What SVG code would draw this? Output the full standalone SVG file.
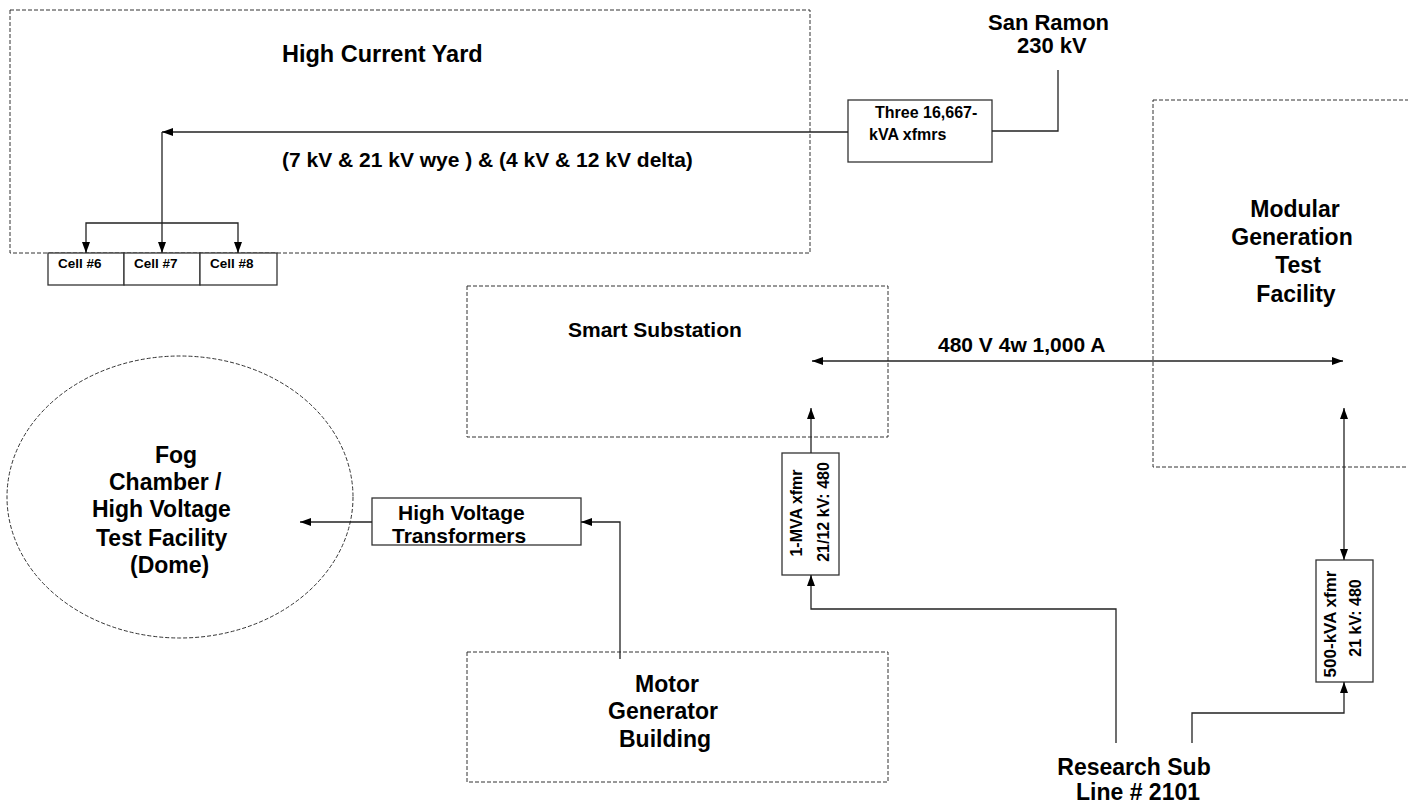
<svg xmlns="http://www.w3.org/2000/svg" width="1408" height="809" viewBox="0 0 1408 809">
<defs>
<style>
.dash{fill:none;stroke:#333;stroke-width:1;stroke-dasharray:4 2}
.box{fill:#fff;stroke:#333;stroke-width:1.3}
.ln{fill:none;stroke:#222;stroke-width:1.3}
.arr{marker-end:url(#ah)}
.arr2{marker-start:url(#ah);marker-end:url(#ah)}
text{font-family:"Liberation Sans",Arial,sans-serif;font-weight:bold;fill:#000}
.big{font-size:23px}
.mid{font-size:21px}
.sm{font-size:16px}
.xs{font-size:13.5px}
</style>
<marker id="ah" markerWidth="11" markerHeight="8" refX="11" refY="4" orient="auto-start-reverse" markerUnits="userSpaceOnUse">
<path d="M0,0 L11,4 L0,8 z" fill="#000"/>
</marker>
</defs>
<rect width="1408" height="809" fill="#fff"/>

<g id="high-current-yard">
<rect class="dash" x="10" y="10" width="800" height="243"/>
<text class="big" x="282" y="62" style="font-size:23.5px">High Current Yard</text>
<text class="mid" x="282" y="167">(7 kV &amp; 21 kV wye ) &amp; (4 kV &amp; 12 kV delta)</text>
</g>

<g id="cells">
<rect class="box" x="48" y="253" width="76" height="32"/>
<rect class="box" x="124" y="253" width="76" height="32"/>
<rect class="box" x="200" y="253" width="77" height="32"/>
<text class="xs" x="58" y="268">Cell #6</text>
<text class="xs" x="134" y="268">Cell #7</text>
<text class="xs" x="210" y="268">Cell #8</text>
</g>

<g id="san-ramon">
<text style="font-size:22px" x="988" y="30">San Ramon</text>
<text style="font-size:22px" x="1017" y="53">230 kV</text>
</g>

<g id="three-xfmrs">
<rect class="box" x="848" y="100" width="144" height="62"/>
<text class="sm" x="875" y="118">Three 16,667-</text>
<text class="sm" x="869" y="140">kVA xfmrs</text>
</g>

<g id="modular-generation">
<rect class="dash" x="1153" y="100" width="270" height="367"/>
<text class="big" x="1295" y="217" text-anchor="middle">Modular</text>
<text class="big" x="1292" y="245" text-anchor="middle">Generation</text>
<text class="big" x="1298" y="273" text-anchor="middle">Test</text>
<text class="big" x="1296" y="302" text-anchor="middle">Facility</text>
</g>

<g id="smart-substation">
<rect class="dash" x="467" y="286" width="421" height="151"/>
<text class="mid" x="568" y="337">Smart Substation</text>
</g>

<g id="fog-chamber">
<ellipse class="dash" cx="180" cy="497" rx="173" ry="141"/>
<text class="big" x="155" y="463">Fog</text>
<text class="big" x="109" y="490">Chamber /</text>
<text class="big" x="92" y="517">High Voltage</text>
<text class="big" x="96" y="546">Test Facility</text>
<text class="big" x="130" y="573">(Dome)</text>
</g>

<g id="hv-transformers">
<rect class="box" x="372" y="498" width="209" height="47"/>
<text class="mid" x="398" y="520">High Voltage</text>
<text class="mid" x="392" y="543">Transformers</text>
</g>

<g id="motor-generator">
<rect class="dash" x="467" y="652" width="421" height="130"/>
<text class="big" x="667" y="692" text-anchor="middle">Motor</text>
<text class="big" x="663" y="719" text-anchor="middle">Generator</text>
<text class="big" x="665" y="747" text-anchor="middle">Building</text>
</g>

<g id="xfmr-1mva">
<rect class="box" x="782" y="453" width="57" height="122"/>
<text class="sm" text-anchor="middle" transform="translate(802,513) rotate(-90)">1-MVA xfmr</text>
<text class="sm" text-anchor="middle" transform="translate(829,512) rotate(-90)">21/12 kV: 480</text>
</g>

<g id="xfmr-500kva">
<rect class="box" x="1316" y="560" width="57" height="122"/>
<text class="sm" text-anchor="middle" transform="translate(1336,624) rotate(-90)" style="font-size:17px">500-kVA xfmr</text>
<text class="sm" text-anchor="middle" transform="translate(1361,618) rotate(-90)">21 kV: 480</text>
</g>

<g id="research-sub">
<text class="big" x="1134" y="775" text-anchor="middle">Research Sub</text>
<text class="big" x="1138" y="800" text-anchor="middle">Line # 2101</text>
</g>

<g id="label-480">
<text class="mid" x="938" y="352">480 V 4w 1,000 A</text>
</g>

<g id="connectors">
<polyline class="ln" points="1058,70 1058,131 992,131"/>
<line class="ln arr" x1="848" y1="132" x2="162" y2="132"/>
<line class="ln arr" x1="162" y1="132" x2="162" y2="253"/>
<polyline class="ln arr" points="162,223 86,223 86,253"/>
<polyline class="ln arr" points="162,223 238,223 238,253"/>
<line class="ln arr2" x1="812" y1="361" x2="1343" y2="361"/>
<line class="ln arr" x1="811" y1="453" x2="811" y2="408"/>
<polyline class="ln arr" points="1116,743 1116,609 811,609 811,575"/>
<line class="ln arr2" x1="1344" y1="408" x2="1344" y2="560"/>
<polyline class="ln arr" points="1192,743 1192,713 1344,713 1344,682"/>
<line class="ln arr" x1="372" y1="522" x2="300" y2="522"/>
<polyline class="ln arr" points="620,659 620,522 581,522"/>
</g>
</svg>
